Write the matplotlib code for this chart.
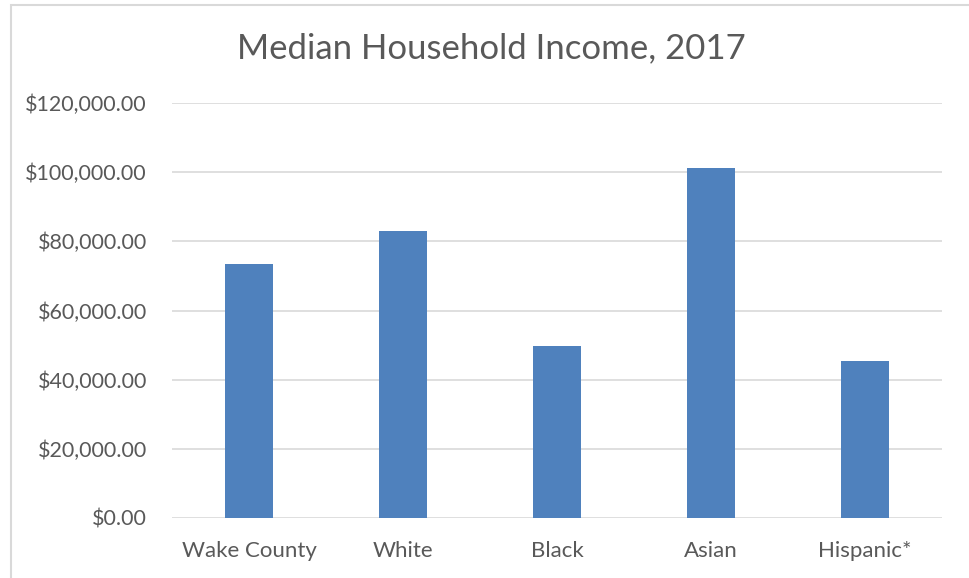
import matplotlib.pyplot as plt
from matplotlib.patches import Rectangle
from matplotlib.ticker import FuncFormatter

# median household income by group, 2017
groups = ['Wake County', 'White', 'Black', 'Asian', 'Hispanic*']
income = [73450, 83000, 49750, 101100, 45400]
y_ticks = [0, 20000, 40000, 60000, 80000, 100000, 120000]

plt.rcParams['font.family'] = ['Lato', 'DejaVu Sans']

fig = plt.figure(figsize=(9.7, 5.78), dpi=100)
ax = fig.add_axes([172 / 970, 1 - 518 / 578, 770 / 970, 415 / 578])

# chart border
fig.patches.append(Rectangle((11 / 970, -0.1), 1.2, 1 - 5 / 578 + 0.1,
                             transform=fig.transFigure, fill=False,
                             edgecolor='#d9d9d9', linewidth=1.5))

ax.bar(range(len(groups)), income, width=0.31, color='#4f81bd', zorder=2)

ax.set_xlim(-0.5, len(groups) - 0.5)
ax.set_ylim(0, 120000)
ax.set_yticks(y_ticks)
ax.yaxis.set_major_formatter(FuncFormatter(lambda v, _: f'${v:,.2f}'))
ax.set_xticks(range(len(groups)))
ax.set_xticklabels(groups)

ax.grid(axis='y', color='#d9d9d9', linewidth=1.2, zorder=0)
for side in ['top', 'right', 'left', 'bottom']:
    ax.spines[side].set_visible(False)
ax.tick_params(axis='both', length=0, labelsize=16, labelcolor='#595959')
ax.tick_params(axis='y', labelsize=15.5, pad=18)
ax.tick_params(axis='x', pad=16.5)

fig.text(491 / 970, 1 - 48 / 578, 'Median Household Income, 2017',
         ha='center', va='center', fontsize=25, color='#595959')

fig.savefig('out.png', dpi=100)
